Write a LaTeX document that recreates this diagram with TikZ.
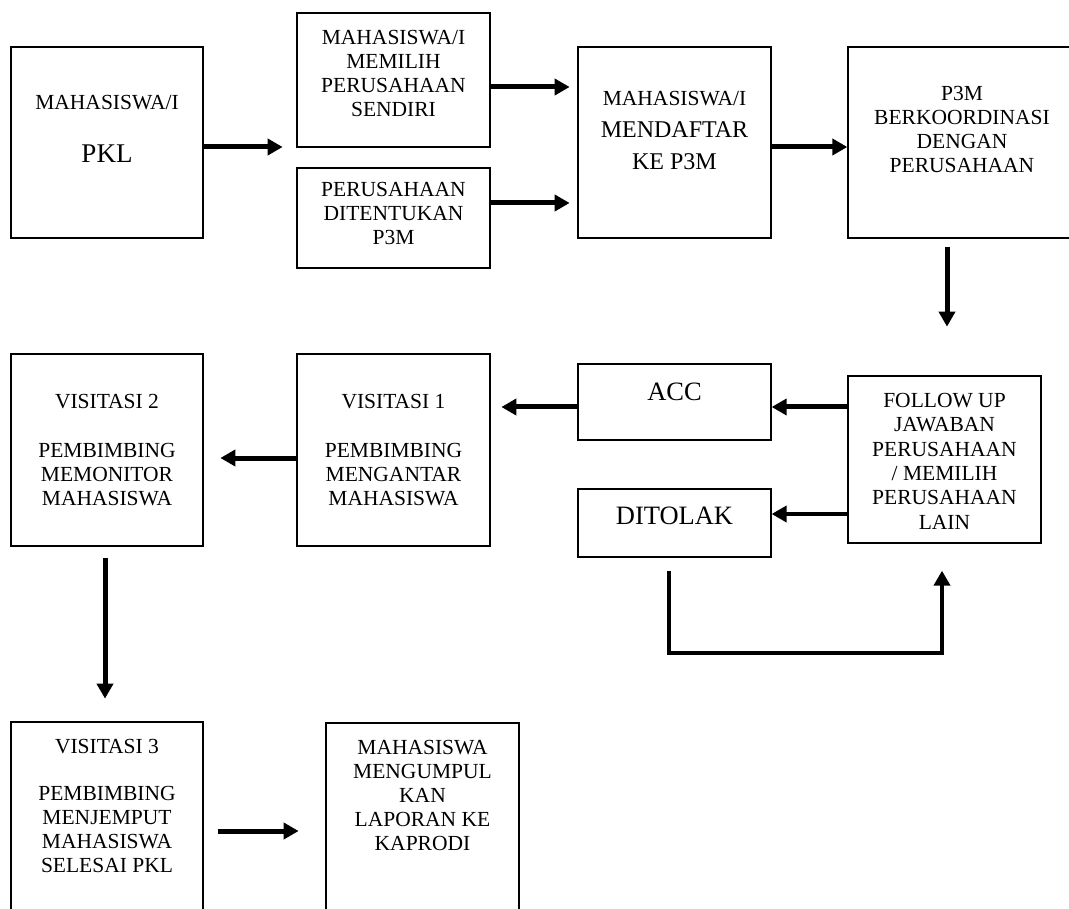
\documentclass[tikz,border=0pt]{standalone}
\usepackage{fontspec}
\setmainfont{Liberation Serif}
\usetikzlibrary{arrows.meta}
\begin{document}
\begin{tikzpicture}[x=1pt,y=-1pt,
  box/.style={draw=black, line width=1.3pt, rectangle, inner sep=0pt},
  txt/.style={align=center, inner sep=0pt, anchor=base, font=\fontsize{21.5}{24}\selectfont},
  big/.style={txt, font=\fontsize{26.5}{30}\selectfont},
  arr/.style={line width=5pt, -{Triangle[length=15pt,width=16pt]}}]
\useasboundingbox (0,0) rectangle (1069,909);
\clip (0,0) rectangle (1069,909);
\fill[white] (0,0) rectangle (1069,909);
% boxes
\node[box, minimum width=192pt, minimum height=191pt] (pkl) at (107,142.5) {};
\node[box, minimum width=193pt, minimum height=134pt] (mem) at (393.5,80) {};
\node[box, minimum width=193pt, minimum height=100pt] (ditent) at (393.5,218) {};
\node[box, minimum width=193pt, minimum height=191pt] (daftar) at (674.5,142.5) {};
\node[box, minimum width=228pt, minimum height=191pt] (p3m) at (962,142.5) {};
\node[box, minimum width=193pt, minimum height=167pt] (follow) at (944.5,459.5) {};
\node[box, minimum width=193pt, minimum height=76pt] (acc) at (674.5,402) {};
\node[box, minimum width=193pt, minimum height=68pt] (ditolak) at (674.5,523) {};
\node[box, minimum width=193pt, minimum height=192pt] (vis1) at (393.5,450) {};
\node[box, minimum width=192pt, minimum height=192pt] (vis2) at (107,450) {};
\node[box, minimum width=192pt, minimum height=238pt] (vis3) at (107,841) {};
\node[box, minimum width=193pt, minimum height=237pt] (kumpul) at (422.5,841.5) {};
% texts (anchor = baseline of the last line)
\node[txt] (tpkl) at (107,163) {MAHASISWA/I\\[29pt]{\fontsize{27}{30}\selectfont PKL}};
\node[txt] (tmem) at (393.5,117) {MAHASISWA/I\\MEMILIH\\PERUSAHAAN\\SENDIRI};
\node[txt] (tditent) at (393.5,245) {PERUSAHAAN\\DITENTUKAN\\P3M};
\node[txt, font=\fontsize{24}{32}\selectfont] (tdaftar) at (674.5,170) {{\fontsize{21.5}{32}\selectfont MAHASISWA/I}\\MENDAFTAR\\KE P3M};
\node[txt] (tp3m) at (962,173) {P3M\\BERKOORDINASI\\DENGAN\\PERUSAHAAN};
\node[big] (tacc) at (674.5,401) {ACC};
\node[big] (tditolak) at (674.5,524) {DITOLAK};
\node[txt, font=\fontsize{21.5}{24.3}\selectfont] (tfollow) at (944.5,529) {FOLLOW UP\\JAWABAN\\PERUSAHAAN\\/ MEMILIH\\PERUSAHAAN\\LAIN};
\node[txt] (tvis1) at (393.5,505) {VISITASI 1\\[25pt]PEMBIMBING\\MENGANTAR\\MAHASISWA};
\node[txt] (tvis2) at (107,505) {VISITASI 2\\[25pt]PEMBIMBING\\MEMONITOR\\MAHASISWA};
\node[txt] (tvis3) at (107,872) {VISITASI 3\\[23pt]PEMBIMBING\\MENJEMPUT\\MAHASISWA\\SELESAI PKL};
\node[txt] (tkumpul) at (422.5,850) {MAHASISWA\\MENGUMPUL\\KAN\\LAPORAN KE\\KAPRODI};
% connectors
\draw[arr] ([yshift=-4.5pt]pkl.east) -- ++(79,0);
\draw[arr] ([yshift=-7pt]mem.east) -- ++(79,0);
\draw[arr] ([yshift=15pt]ditent.east) -- ++(79,0);
\draw[arr] ([yshift=-4.5pt]daftar.east) -- ([yshift=-4.5pt]p3m.west);
\draw[arr] ([xshift=-15pt,yshift=-8pt]p3m.south) -- ++(0,80);
\coordinate (accin) at ([yshift=-5pt]acc.east);
\coordinate (tolin) at ([yshift=9pt]ditolak.east);
\draw[arr] (follow.west |- accin) -- (accin);
\draw[arr, line width=4.5pt] (follow.west |- tolin) -- (tolin);
\draw[arr] ([yshift=-5pt]acc.west) -- ++(-76,0);
\draw[arr] ([yshift=-8pt]vis1.west) -- ++(-76,0);
\draw[arr] ([xshift=-2pt,yshift=-11pt]vis2.south) -- ++(0,141);
\draw[arr] ([xshift=14pt,yshift=10pt]vis3.east) -- ++(81,0);
\coordinate (l1) at ([xshift=-5.5pt,yshift=-13pt]ditolak.south);
\coordinate (l4) at ([xshift=-2.5pt,yshift=-27pt]follow.south);
\draw[arr, line width=4pt] (l1) -- ++(0,82) -| (l4);
\end{tikzpicture}
\end{document}
